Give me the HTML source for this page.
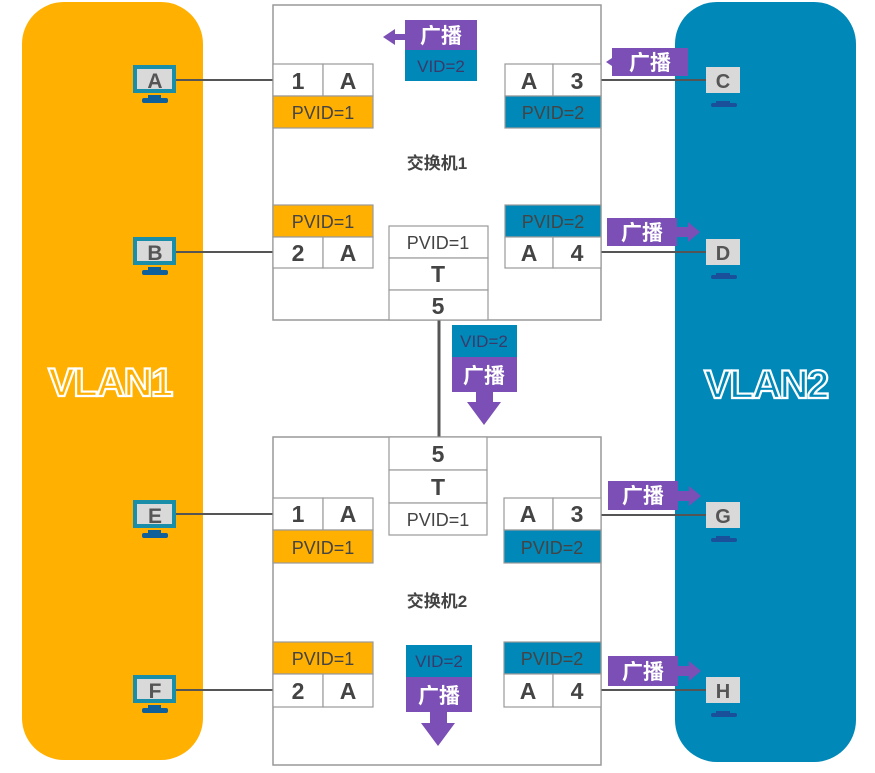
<!DOCTYPE html>
<html><head><meta charset="utf-8"><style>
html,body{margin:0;padding:0;background:#fff;width:875px;height:773px;overflow:hidden}
svg{display:block}
text{font-family:"Liberation Sans","Noto Sans CJK SC",sans-serif}
.b{font-weight:bold}
</style></head><body>
<svg width="875" height="773" viewBox="0 0 875 773" xmlns="http://www.w3.org/2000/svg">
<defs>
<g id="pcL"><rect x="0" y="0" width="43" height="28" fill="#1a8ea8"/><rect x="4" y="4" width="35" height="20" fill="#d9d9d9"/><rect x="15" y="30" width="13" height="3" fill="#0f5f9a"/><rect x="9" y="33" width="26" height="5" rx="2" fill="#0f5f9a"/></g>
<g id="pcR"><rect x="0" y="0" width="34" height="26" fill="#d9d9d9"/><rect x="10" y="34" width="14" height="2" fill="#1a4f9a"/><rect x="5" y="36" width="26" height="4" rx="2" fill="#1a4f9a"/></g>
</defs>
<rect x="22" y="2" width="181" height="758" rx="42" fill="#ffb000"/>
<rect x="675" y="2" width="181" height="760" rx="42" fill="#0088b8"/>
<text x="110" y="396" text-anchor="middle" font-size="40" class="b" fill="#ffb000" stroke="#fff" stroke-width="2.2" letter-spacing="-1.5">VLAN1</text>
<text x="766" y="398" text-anchor="middle" font-size="40" class="b" fill="#0088b8" stroke="#fff" stroke-width="2.2" letter-spacing="-1.5">VLAN2</text>
<rect x="273" y="5" width="328" height="315" fill="#fff" stroke="#999" stroke-width="1.5"/>
<rect x="273" y="437" width="328" height="328" fill="#fff" stroke="#999" stroke-width="1.5"/>
<line x1="439" y1="320" x2="439" y2="437" stroke="#555" stroke-width="3"/>
<text x="437" y="169" text-anchor="middle" font-size="17" class="b" fill="#444">交换机1</text>
<text x="437" y="607" text-anchor="middle" font-size="17" class="b" fill="#444">交换机2</text>
<g stroke="#555" stroke-width="2"><line x1="176" y1="80" x2="273" y2="80"/><line x1="176" y1="252" x2="273" y2="252"/><line x1="176" y1="514" x2="273" y2="514"/><line x1="176" y1="690" x2="273" y2="690"/>
<line x1="601" y1="80" x2="707" y2="80"/><line x1="601" y1="252" x2="707" y2="252"/><line x1="601" y1="515" x2="707" y2="515"/><line x1="601" y1="690" x2="707" y2="690"/></g>
<use href="#pcL" x="133" y="65"/><text x="155" y="88" text-anchor="middle" font-size="21" class="b" fill="#555">A</text>
<use href="#pcL" x="133" y="237"/><text x="155" y="260" text-anchor="middle" font-size="21" class="b" fill="#555">B</text>
<use href="#pcL" x="133" y="500"/><text x="155" y="523" text-anchor="middle" font-size="21" class="b" fill="#555">E</text>
<use href="#pcL" x="133" y="675"/><text x="155" y="698" text-anchor="middle" font-size="21" class="b" fill="#555">F</text>
<use href="#pcR" x="706" y="67"/><text x="723" y="88" text-anchor="middle" font-size="20" class="b" fill="#555">C</text>
<use href="#pcR" x="706" y="239"/><text x="723" y="260" text-anchor="middle" font-size="20" class="b" fill="#555">D</text>
<use href="#pcR" x="706" y="502"/><text x="723" y="523" text-anchor="middle" font-size="20" class="b" fill="#555">G</text>
<use href="#pcR" x="706" y="677"/><text x="723" y="698" text-anchor="middle" font-size="20" class="b" fill="#555">H</text>
<g stroke="#999" stroke-width="1.2">
<rect x="273" y="64" width="50" height="32" fill="#fff"/><rect x="323" y="64" width="50" height="32" fill="#fff"/><rect x="273" y="96" width="100" height="32" fill="#ffb000"/>
<rect x="273" y="205" width="100" height="32" fill="#ffb000"/><rect x="273" y="237" width="50" height="31" fill="#fff"/><rect x="323" y="237" width="50" height="31" fill="#fff"/>
<rect x="505" y="64" width="48" height="32" fill="#fff"/><rect x="553" y="64" width="48" height="32" fill="#fff"/><rect x="505" y="96" width="96" height="32" fill="#0088b8"/>
<rect x="505" y="205" width="96" height="32" fill="#0088b8"/><rect x="505" y="237" width="48" height="31" fill="#fff"/><rect x="553" y="237" width="48" height="31" fill="#fff"/>
<rect x="389" y="226" width="99" height="32" fill="#fff"/><rect x="389" y="258" width="99" height="32" fill="#fff"/><rect x="389" y="290" width="99" height="30" fill="#fff"/>
<rect x="389" y="437" width="98" height="33" fill="#fff"/><rect x="389" y="470" width="98" height="33" fill="#fff"/><rect x="389" y="503" width="98" height="32" fill="#fff"/>
<rect x="273" y="498" width="50" height="32" fill="#fff"/><rect x="323" y="498" width="50" height="32" fill="#fff"/><rect x="273" y="530" width="100" height="33" fill="#ffb000"/>
<rect x="273" y="642" width="100" height="32" fill="#ffb000"/><rect x="273" y="674" width="50" height="33" fill="#fff"/><rect x="323" y="674" width="50" height="33" fill="#fff"/>
<rect x="504" y="498" width="49" height="32" fill="#fff"/><rect x="553" y="498" width="48" height="32" fill="#fff"/><rect x="504" y="530" width="97" height="33" fill="#0088b8"/>
<rect x="504" y="642" width="97" height="32" fill="#0088b8"/><rect x="504" y="674" width="49" height="33" fill="#fff"/><rect x="553" y="674" width="48" height="33" fill="#fff"/>
</g>
<g font-size="23" class="b" fill="#444" text-anchor="middle">
<text x="298" y="89">1</text><text x="348" y="89">A</text>
<text x="298" y="261">2</text><text x="348" y="261">A</text>
<text x="529" y="89">A</text><text x="577" y="89">3</text>
<text x="529" y="261">A</text><text x="577" y="261">4</text>
<text x="438" y="282">T</text><text x="438" y="314">5</text>
<text x="438" y="462">5</text><text x="438" y="495">T</text>
<text x="298" y="522">1</text><text x="348" y="522">A</text>
<text x="298" y="699">2</text><text x="348" y="699">A</text>
<text x="528" y="522">A</text><text x="577" y="522">3</text>
<text x="528" y="699">A</text><text x="577" y="699">4</text>
</g>
<g font-size="18" fill="#444" text-anchor="middle">
<text x="323" y="119">PVID=1</text><text x="323" y="228">PVID=1</text>
<text x="553" y="119">PVID=2</text><text x="553" y="228">PVID=2</text>
<text x="438" y="249">PVID=1</text><text x="438" y="526">PVID=1</text>
<text x="323" y="554">PVID=1</text><text x="323" y="665">PVID=1</text>
<text x="552" y="554">PVID=2</text><text x="552" y="665">PVID=2</text>
</g>
<g fill="#7b4fb5">
<rect x="405" y="20" width="72" height="30"/><polygon points="383,37 395,29 395,34 405,34 405,40 395,40 395,45"/>
<rect x="612" y="48" width="76" height="28"/><polygon points="606,62 618,54 618,59 612,59 612,65 618,65 618,70"/><rect x="616" y="59" width="2" height="6"/>
<rect x="607" y="218" width="70" height="28"/><polygon points="677,227 688,227 688,222 700,232 688,242 688,237 677,237"/>
<rect x="608" y="481" width="70" height="29"/><polygon points="678,491 689,491 689,486 701,496 689,506 689,501 678,501"/>
<rect x="608" y="656" width="70" height="30"/><polygon points="678,666 689,666 689,661 701,671 689,681 689,676 678,676"/>
<rect x="452" y="357" width="65" height="35"/><polygon points="476,392 493,392 493,402 501,402 484,425 467,402 476,402"/>
<rect x="406" y="677" width="66" height="35"/><polygon points="430,712 447,712 447,723 455,723 438,746 421,723 430,723"/>
</g>
<g fill="#0088b8">
<rect x="405" y="50" width="72" height="31"/>
<rect x="452" y="325" width="65" height="32"/>
<rect x="406" y="645" width="66" height="32"/>
</g>
<g font-size="17" fill="#3a3a6a" text-anchor="middle">
<text x="441" y="72">VID=2</text><text x="484" y="347">VID=2</text><text x="439" y="667">VID=2</text>
</g>
<g font-size="21" class="b" fill="#fff" text-anchor="middle">
<text x="441" y="43">广播</text><text x="650" y="70">广播</text><text x="642" y="240">广播</text>
<text x="643" y="503">广播</text><text x="643" y="679">广播</text>
<text x="484" y="383">广播</text><text x="439" y="703">广播</text>
</g>
</svg>
</body></html>
